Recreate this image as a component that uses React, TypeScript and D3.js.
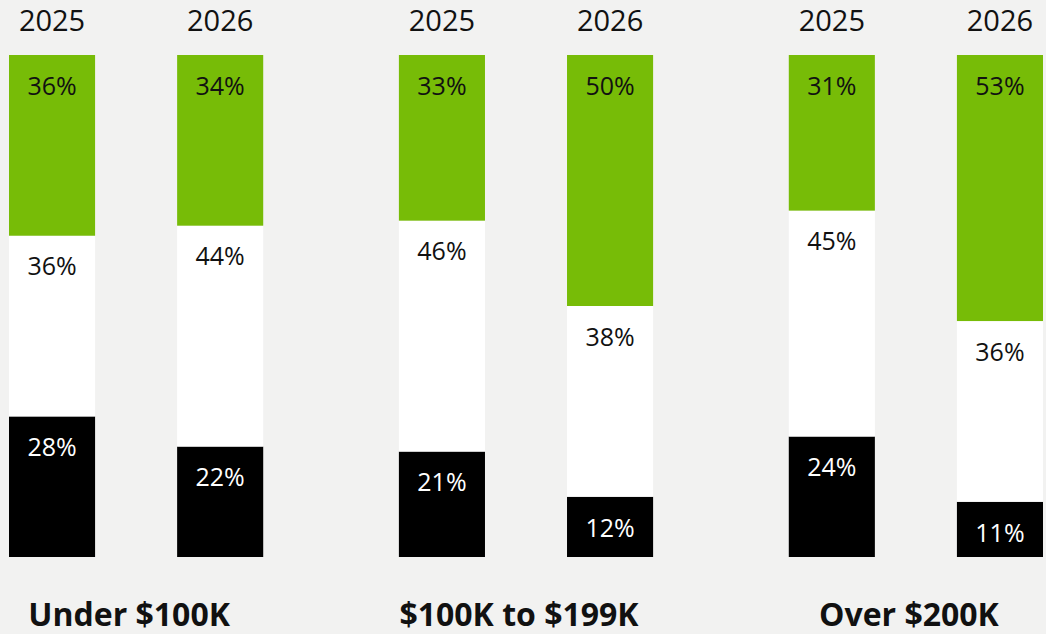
import React from 'react';
import * as d3 from 'd3';

// income brackets and survey years
const brackets = ['Under $100K', '$100K to $199K', 'Over $200K'];
const years = ['2025', '2026'];

// share of respondents per segment, bottom (black) / middle (white) / top (green)
const blackShare = [28, 22, 21, 12, 24, 11];
const whiteShare = [36, 44, 46, 38, 45, 36];
const greenShare = [36, 34, 33, 50, 31, 53];

const W = 1046;
const H = 634;
const margin = { top: 55, right: 3, bottom: 77, left: 9 };

const segColors = { black: '#000000', white: '#ffffff', green: '#77bc07' };
const labelColors = { black: '#ffffff', white: '#111111', green: '#111111' };

export default function App() {
  const x0 = d3.scaleBand().domain(brackets).range([margin.left, W - margin.right]).paddingInner(0.348).paddingOuter(0);
  const x1 = d3.scaleBand().domain(years).range([0, x0.bandwidth()]).paddingInner(0.488).paddingOuter(0);
  const y = d3.scaleLinear().domain([0, 100]).range([H - margin.bottom, margin.top]);

  const rows = brackets.flatMap((b, gi) =>
    years.map((yr, yi) => {
      const i = gi * years.length + yi;
      return { bracket: b, year: yr, black: blackShare[i], white: whiteShare[i], green: greenShare[i] };
    })
  );
  const series = d3.stack<any>().keys(['black', 'white', 'green'])(rows);

  const font = '"Open Sans", "Noto Sans", sans-serif';

  return (
    <svg width={W} height={H} style={{ position: 'absolute', left: 0, top: 0, display: 'block', background: '#f2f2f1' }}>
      <rect width={W} height={H} fill='#f2f2f1' />
      {series.map(s =>
        s.map((d, i) => {
          const r = d.data;
          const bx = (x0(r.bracket) || 0) + (x1(r.year) || 0);
          const top = y(d[1]);
          return (
            <g key={`${s.key}-${i}`}>
              <rect x={bx} y={top} width={x1.bandwidth()} height={y(d[0]) - top} fill={segColors[s.key]} />
              <text x={bx + x1.bandwidth() / 2} y={top + 31} dy='0.35em' textAnchor='middle'
                fontFamily={font} fontSize={25} fill={labelColors[s.key]}>{`${r[s.key]}%`}</text>
            </g>
          );
        })
      )}
      {rows.map((r, i) => (
        <text key={`yr-${i}`} x={(x0(r.bracket) || 0) + (x1(r.year) || 0) + x1.bandwidth() / 2} y={31}
          textAnchor='middle' fontFamily={font} fontSize={29} fill='#111'>{r.year}</text>
      ))}
      {brackets.map(b => (
        <text key={b} x={(x0(b) || 0) + x0.bandwidth() / 2 - 7} y={626} textAnchor='middle'
          fontFamily={font} fontSize={32} fontWeight='bold' fill='#111'>{b}</text>
      ))}
    </svg>
  );
}
